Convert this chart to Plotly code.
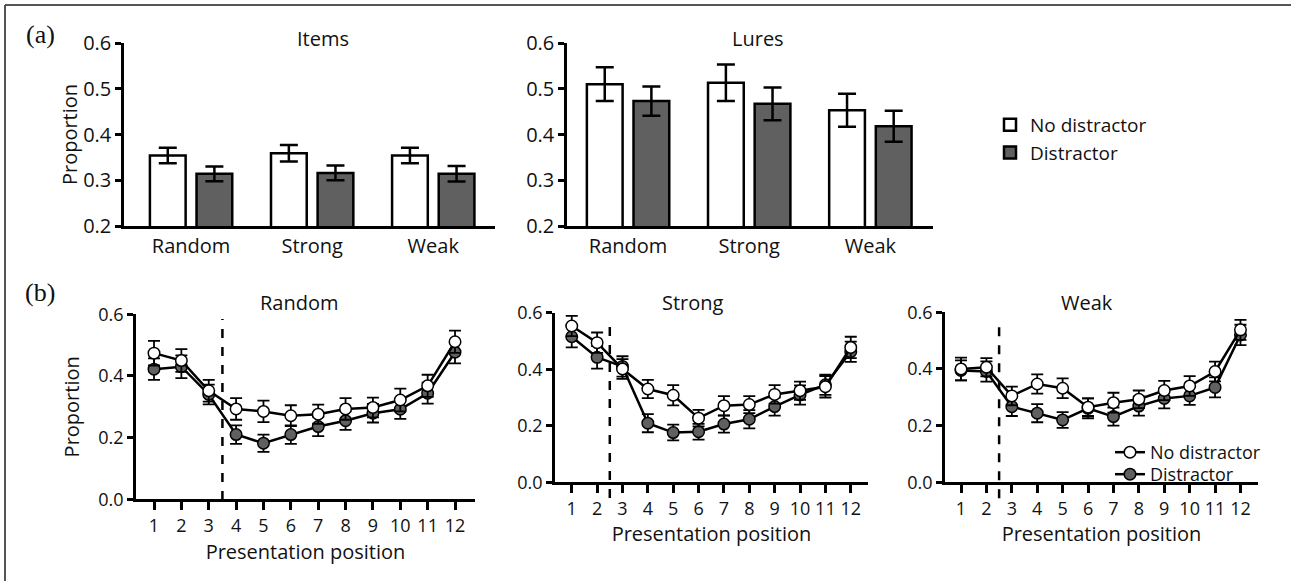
import plotly.graph_objects as go

W, H = 1291, 581

# ---------------- data ----------------
conditions = ["Random", "Strong", "Weak"]
items_nd = [0.354, 0.359, 0.354]
items_nd_err = [0.017, 0.018, 0.017]
items_d = [0.314, 0.316, 0.314]
items_d_err = [0.016, 0.016, 0.017]
lures_nd = [0.510, 0.513, 0.453]
lures_nd_err = [0.037, 0.040, 0.036]
lures_d = [0.473, 0.467, 0.418]
lures_d_err = [0.032, 0.036, 0.034]

positions = list(range(1, 13))
random_nd = [0.474, 0.450, 0.352, 0.293, 0.285, 0.271, 0.276, 0.293, 0.298, 0.322, 0.368, 0.511]
random_nd_err = [0.040, 0.037, 0.035, 0.035, 0.035, 0.034, 0.031, 0.035, 0.032, 0.037, 0.036, 0.036]
random_d = [0.422, 0.430, 0.340, 0.210, 0.182, 0.210, 0.236, 0.255, 0.279, 0.292, 0.344, 0.477]
random_d_err = [0.035, 0.037, 0.032, 0.030, 0.028, 0.030, 0.031, 0.030, 0.030, 0.031, 0.034, 0.036]
strong_nd = [0.553, 0.494, 0.401, 0.330, 0.308, 0.227, 0.271, 0.275, 0.311, 0.324, 0.338, 0.477]
strong_nd_err = [0.036, 0.036, 0.035, 0.032, 0.036, 0.029, 0.034, 0.030, 0.033, 0.032, 0.038, 0.038]
strong_d = [0.515, 0.442, 0.410, 0.209, 0.176, 0.179, 0.206, 0.223, 0.268, 0.309, 0.345, 0.462]
strong_d_err = [0.038, 0.040, 0.036, 0.032, 0.028, 0.028, 0.030, 0.032, 0.032, 0.034, 0.036, 0.036]
weak_nd = [0.400, 0.406, 0.305, 0.347, 0.332, 0.265, 0.281, 0.293, 0.324, 0.340, 0.391, 0.538]
weak_nd_err = [0.040, 0.032, 0.033, 0.034, 0.035, 0.031, 0.035, 0.031, 0.034, 0.035, 0.035, 0.035]
weak_d = [0.395, 0.391, 0.267, 0.244, 0.220, 0.261, 0.232, 0.269, 0.296, 0.305, 0.335, 0.520]
weak_d_err = [0.035, 0.036, 0.033, 0.032, 0.028, 0.035, 0.032, 0.034, 0.035, 0.032, 0.035, 0.036]

distractor_onset = [3.5, 2.5, 2.5]
series_names = ["No distractor", "Distractor"]

# ---------------- style ----------------
FONT = "Open Sans"
TXT = "#111111"
GRAY = "#606060"


def px(x):
    return x / W


def py(y):
    return 1 - y / H


fig = go.Figure()

# ---------- (a) bar panels ----------
bar_panels = [
    ("x", "y", items_nd, items_nd_err, items_d, items_d_err, True),
    ("x2", "y2", lures_nd, lures_nd_err, lures_d, lures_d_err, False),
]
idx = list(range(len(conditions)))
for xa, ya, nd, nde, d, de, show in bar_panels:
    fig.add_trace(go.Bar(
        x=idx, y=nd, name=series_names[0], xaxis=xa, yaxis=ya,
        offset=-0.34, width=0.295,
        marker=dict(color="white", line=dict(color="black", width=2.5)),
        error_y=dict(type="data", array=nde, color="black", thickness=2.5, width=9),
        showlegend=show, legend="legend",
    ))
    fig.add_trace(go.Bar(
        x=idx, y=d, name=series_names[1], xaxis=xa, yaxis=ya,
        offset=0.045, width=0.295,
        marker=dict(color=GRAY, line=dict(color="black", width=2.5)),
        error_y=dict(type="data", array=de, color="black", thickness=2.5, width=9),
        showlegend=show, legend="legend",
    ))

# ---------- (b) serial position panels ----------
line_panels = [
    ("x3", "y3", random_nd, random_nd_err, random_d, random_d_err, False),
    ("x4", "y4", strong_nd, strong_nd_err, strong_d, strong_d_err, False),
    ("x5", "y5", weak_nd, weak_nd_err, weak_d, weak_d_err, True),
]
for xa, ya, nd, nde, d, de, show in line_panels:
    fig.add_trace(go.Scatter(
        x=positions, y=d, name=series_names[1], xaxis=xa, yaxis=ya,
        mode="lines+markers", cliponaxis=False,
        line=dict(color="black", width=2.5),
        marker=dict(size=11.5, color=GRAY, line=dict(color="black", width=1.5)),
        error_y=dict(type="data", array=de, color="black", thickness=1.8, width=6),
        showlegend=show, legend="legend3",
    ))
    fig.add_trace(go.Scatter(
        x=positions, y=nd, name=series_names[0], xaxis=xa, yaxis=ya,
        mode="lines+markers", cliponaxis=False,
        line=dict(color="black", width=2.5),
        marker=dict(size=11.5, color="white", line=dict(color="black", width=1.5)),
        error_y=dict(type="data", array=nde, color="black", thickness=1.8, width=6),
        showlegend=show, legend="legend2",
    ))

axis_common = dict(
    showline=True, linecolor="black", linewidth=2.5, showgrid=False, zeroline=False,
    ticks="outside", tickcolor="black", tickwidth=2.5, automargin=False,
    tickfont=dict(family=FONT, size=20, color=TXT),
)
title_font = dict(family=FONT, size=20, color=TXT)

layout = dict(
    template="none",
    width=W, height=H, autosize=False,
    margin=dict(l=0, r=0, t=0, b=0, pad=0),
    paper_bgcolor="white", plot_bgcolor="white",
    barmode="overlay",
    font=dict(family=FONT, color=TXT, size=19),
)

# bar panel axes
layout["xaxis"] = dict(axis_common, domain=[px(124), px(495)], range=[-0.554, 2.51],
                       tickvals=idx, ticktext=conditions, ticks="", ticklen=0, anchor="y")
layout["yaxis"] = dict(axis_common, domain=[py(226), py(43)], range=[0.2, 0.6],
                       tickvals=[0.2, 0.3, 0.4, 0.5, 0.6], ticktext=["0.2", "0.3", "0.4", "0.5", "0.6"],
                       ticklen=6, anchor="x",
                       title=dict(text="Proportion", standoff=0, font=title_font))
layout["xaxis2"] = dict(axis_common, domain=[px(567), px(933)], range=[-0.504, 2.517],
                        tickvals=idx, ticktext=conditions, ticks="", ticklen=0, anchor="y2")
layout["yaxis2"] = dict(axis_common, domain=[py(226), py(43)], range=[0.2, 0.6],
                        tickvals=[0.2, 0.3, 0.4, 0.5, 0.6], ticktext=["0.2", "0.3", "0.4", "0.5", "0.6"],
                        ticklen=6, anchor="x2")

# line panel axes
line_dom = [
    ([136, 475], [499.3, 314.3], [0.342, 12.73], 10),
    ([555, 868], [482.3, 312.7], [0.34, 12.68], 3),
    ([945, 1258], [482.3, 312.3], [0.37, 12.69], 3),
]
for i, (xd, yd, xr, so) in enumerate(line_dom):
    n = i + 3
    layout[f"xaxis{n}"] = dict(axis_common, domain=[px(xd[0]), px(xd[1])], range=xr,
                               tickvals=positions, ticklen=8, anchor=f"y{n}",
                               tickfont=dict(family=FONT, size=18, color=TXT),
                               title=dict(text="Presentation position", standoff=so, font=title_font))
    ydict = dict(axis_common, domain=[py(yd[0]), py(yd[1])], range=[0, 0.6],
                 tickvals=[0, 0.2, 0.4, 0.6], ticktext=["0.0", "0.2", "0.4", "0.6"],
                 ticklen=6, anchor=f"x{n}",
                 tickfont=dict(family=FONT, size=18, color=TXT))
    if n == 3:
        ydict["title"] = dict(text="Proportion", standoff=14, font=title_font)
    layout[f"yaxis{n}"] = ydict

legend_common = dict(xanchor="left", yanchor="top", bgcolor="rgba(0,0,0,0)", borderwidth=0)
layout["legend"] = dict(legend_common, x=px(990), y=py(106), traceorder="normal",
                        font=dict(family=FONT, size=19, color=TXT))
layout["legend2"] = dict(legend_common, x=px(1110), y=py(434),
                         font=dict(family=FONT, size=18, color=TXT))
layout["legend3"] = dict(legend_common, x=px(1110), y=py(456),
                         font=dict(family=FONT, size=18, color=TXT))

fig.update_layout(**layout)

# dashed distractor-onset lines
line_tops = [319, 319, 318.3]
line_bottoms = [500, 498, 498.3]
for i, onset in enumerate(distractor_onset):
    n = i + 3
    fig.add_shape(type="line", xref=f"x{n}", yref="paper",
                  x0=onset, x1=onset, y0=py(line_bottoms[i]), y1=py(line_tops[i]),
                  line=dict(color="black", width=2.5, dash="dash"))

# figure frame: top and left edges
fig.add_shape(type="line", xref="paper", yref="paper",
              x0=px(5), x1=1.0, y0=py(5), y1=py(5),
              line=dict(color="#555555", width=2))
fig.add_shape(type="line", xref="paper", yref="paper",
              x0=px(5), x1=px(5), y0=0.0, y1=py(5),
              line=dict(color="#555555", width=2))

# titles and panel labels
titles = [("Items", 323, 38), ("Lures", 758, 38),
          ("Random", 299, 303), ("Strong", 693, 303), ("Weak", 1087, 303)]
for t, x, y in titles:
    fig.add_annotation(text=t, x=px(x), y=py(y), xref="paper", yref="paper",
                       showarrow=False, xanchor="center", yanchor="middle",
                       font=dict(family=FONT, size=20, color=TXT))
for t, x, y in [("(a)", 40, 35), ("(b)", 40, 292)]:
    fig.add_annotation(text=t, x=px(x), y=py(y), xref="paper", yref="paper",
                       showarrow=False, xanchor="center", yanchor="middle",
                       font=dict(family="Liberation Serif", size=26, color=TXT))

# remove the browser's default page margin so the figure sits at the page origin
fig.write_html("out.html",
               config={"displayModeBar": False},
               post_script="document.body.style.margin='0';document.body.style.overflow='hidden';")
